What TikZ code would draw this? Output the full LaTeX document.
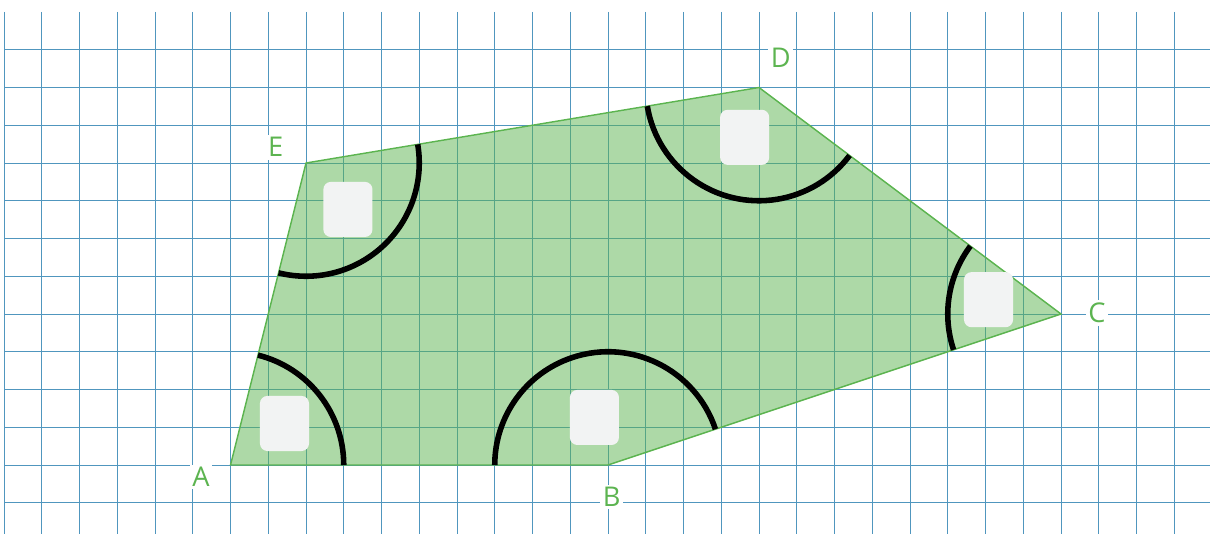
\documentclass[tikz,border=0pt]{standalone}
\usepackage{fontspec}
\setmainfont{Open Sans}
\definecolor{gridblue}{RGB}{80,150,190}
\definecolor{polygreen}{RGB}{92,180,80}
\definecolor{boxgray}{RGB}{242,243,243}
\tikzset{
  gridline/.style={draw=gridblue, line width=0.6pt},
  poly/.style={draw=polygreen, line width=1.1pt, fill=polygreen, fill opacity=0.5, line join=miter},
  vlabel/.style={text=polygreen, fill=white, inner sep=2pt, font=\fontsize{20.5}{24}\selectfont},
  anglearc/.style={draw=black, line width=4.2pt},
  markbox/.style={fill=boxgray, rounded corners=0.2cm, minimum width=1.3cm, minimum height=1.46cm, inner sep=0pt}
}
\begin{document}
\begin{tikzpicture}
\useasboundingbox (-0.106,-1.828) rectangle (31.947,12.318);
% grid
\foreach \x in {0,...,31} \draw[gridline] (\x,12) -- (\x,-1.828);
\foreach \y in {-1,...,11} \draw[gridline] (0,\y) -- (31.947,\y);
% vertices
\coordinate (A) at (6,0);
\coordinate (B) at (16,0);
\coordinate (C) at (28,4);
\coordinate (D) at (20,10);
\coordinate (E) at (8,8);
% polygon
\draw[poly] (A) -- (B) -- (C) -- (D) -- (E) -- cycle;
% angle arcs
\draw[anglearc] ([shift={(0:3)}]A) arc[start angle=0, end angle=75.96, radius=3];
\draw[anglearc] ([shift={(18.43:3)}]B) arc[start angle=18.43, end angle=180, radius=3];
\draw[anglearc] ([shift={(143.13:3)}]C) arc[start angle=143.13, end angle=198.43, radius=3];
\draw[anglearc] ([shift={(189.46:3)}]D) arc[start angle=189.46, end angle=323.13, radius=3];
\draw[anglearc] ([shift={(255.96:3)}]E) arc[start angle=255.96, end angle=369.46, radius=3];
% boxes
\node[markbox] (bA) at (7.43,1.10) {};
\node[markbox] (bB) at (15.64,1.26) {};
\node[markbox] (bC) at (26.08,4.38) {};
\node[markbox] (bD) at (19.62,8.68) {};
\node[markbox] (bE) at (9.11,6.77) {};
% labels
\node[vlabel] (lA) at (5.22,-0.32) {A};
\node[vlabel] (lB) at (16.1,-0.85) {B};
\node[vlabel] (lC) at (28.95,4.03) {C};
\node[vlabel] (lD) at (20.58,10.78) {D};
\node[vlabel] (lE) at (7.2,8.42) {E};
\end{tikzpicture}
\end{document}
